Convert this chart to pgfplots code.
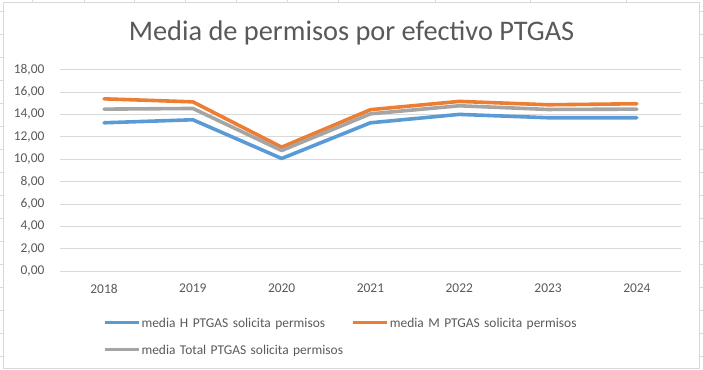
\documentclass[border=0pt]{standalone}
\usepackage{pgfplots}
\pgfplotsset{compat=1.18}
\usepackage{fontspec}
\setmainfont{Carlito}
\definecolor{cblue}{HTML}{5B9BD5}
\definecolor{corange}{HTML}{ED7D31}
\definecolor{cgray}{HTML}{A5A5A5}
\definecolor{cgrid}{HTML}{D9D9D9}
\definecolor{ctext}{HTML}{595959}
\begin{document}
\begin{tikzpicture}
\begin{scope}[x=1bp,y=1bp]
\path (0,0) rectangle (703,370);
\foreach \yy in {11,34,57,80,103,126,149,172,195,218,241,264,287,310,333,356}{
  \draw[cgrid,line width=0.8bp] (0,370-\yy) -- (3.5,370-\yy);
  \draw[cgrid,line width=0.8bp] (699.5,370-\yy) -- (703,370-\yy);
}
\foreach \xx in {32.3,83.9,134.5,185.2,236.3,287,338.6,435,530.5,626.5}{
  \draw[cgrid,line width=0.8bp] (\xx,370) -- (\xx,367.5);
}
\draw[cgrid,line width=1bp] (3.5,1) rectangle (699.5,367.5);
\node[text=ctext,font=\fontsize{28.5}{33}\selectfont] at (351.5,337) {Media de permisos por efectivo PTGAS};
\end{scope}
\begin{axis}[
  at={(59.3bp,99bp)}, anchor=south west,
  scale only axis, width=622.4bp, height=201.7bp,
  xmin=2017.5, xmax=2024.5, ymin=0, ymax=18,
  xtick={2018,2019,2020,2021,2022,2023,2024},
  ytick={0,2,...,18},
  axis line style={draw=none},
  major tick length=0pt,
  ymajorgrids, grid style={cgrid,line width=0.8bp},
  tick label style={text=ctext,font=\fontsize{13.5}{16}\selectfont,inner sep=0pt},
  /pgf/number format/assume math mode=true,
  xticklabel style={/pgf/number format/1000 sep={},anchor=north,yshift=-13bp},
  yticklabel style={/pgf/number format/.cd,fixed,fixed zerofill,precision=2,use comma,/tikz/.cd,anchor=east,xshift=-15bp},
  legend columns=2,
  legend cell align=left,
  legend image code/.code={\draw[#1,line cap=butt] (0bp,0bp) -- (34bp,0bp);},
  legend style={draw=none,fill=none,inner sep=0pt,
    at={(axis description cs:0.0694,-0.3223)},anchor=west,
    font=\fontsize{13.5}{16}\selectfont,text=ctext,
    nodes={inner sep=0pt,text depth=0pt},
    row sep=18bp,
    /tikz/every odd column/.append style={column sep=1bp},
    /tikz/every even column/.append style={text width=210bp}},
  every axis plot/.append style={line width=3.6bp,line join=round,line cap=round},
]
\addplot[cblue] coordinates {(2018,13.25)(2019,13.52)(2020,10.06)(2021,13.25)(2022,14.0)(2023,13.7)(2024,13.7)};
\addlegendentry{media H PTGAS solicita permisos}
\addplot[corange] coordinates {(2018,15.39)(2019,15.12)(2020,11.07)(2021,14.42)(2022,15.16)(2023,14.86)(2024,14.95)};
\addlegendentry{media M PTGAS solicita permisos}
\addplot[cgray] coordinates {(2018,14.47)(2019,14.53)(2020,10.77)(2021,14.05)(2022,14.77)(2023,14.44)(2024,14.47)};
\addlegendentry{media Total PTGAS solicita permisos}
\end{axis}
\end{tikzpicture}
\end{document}
